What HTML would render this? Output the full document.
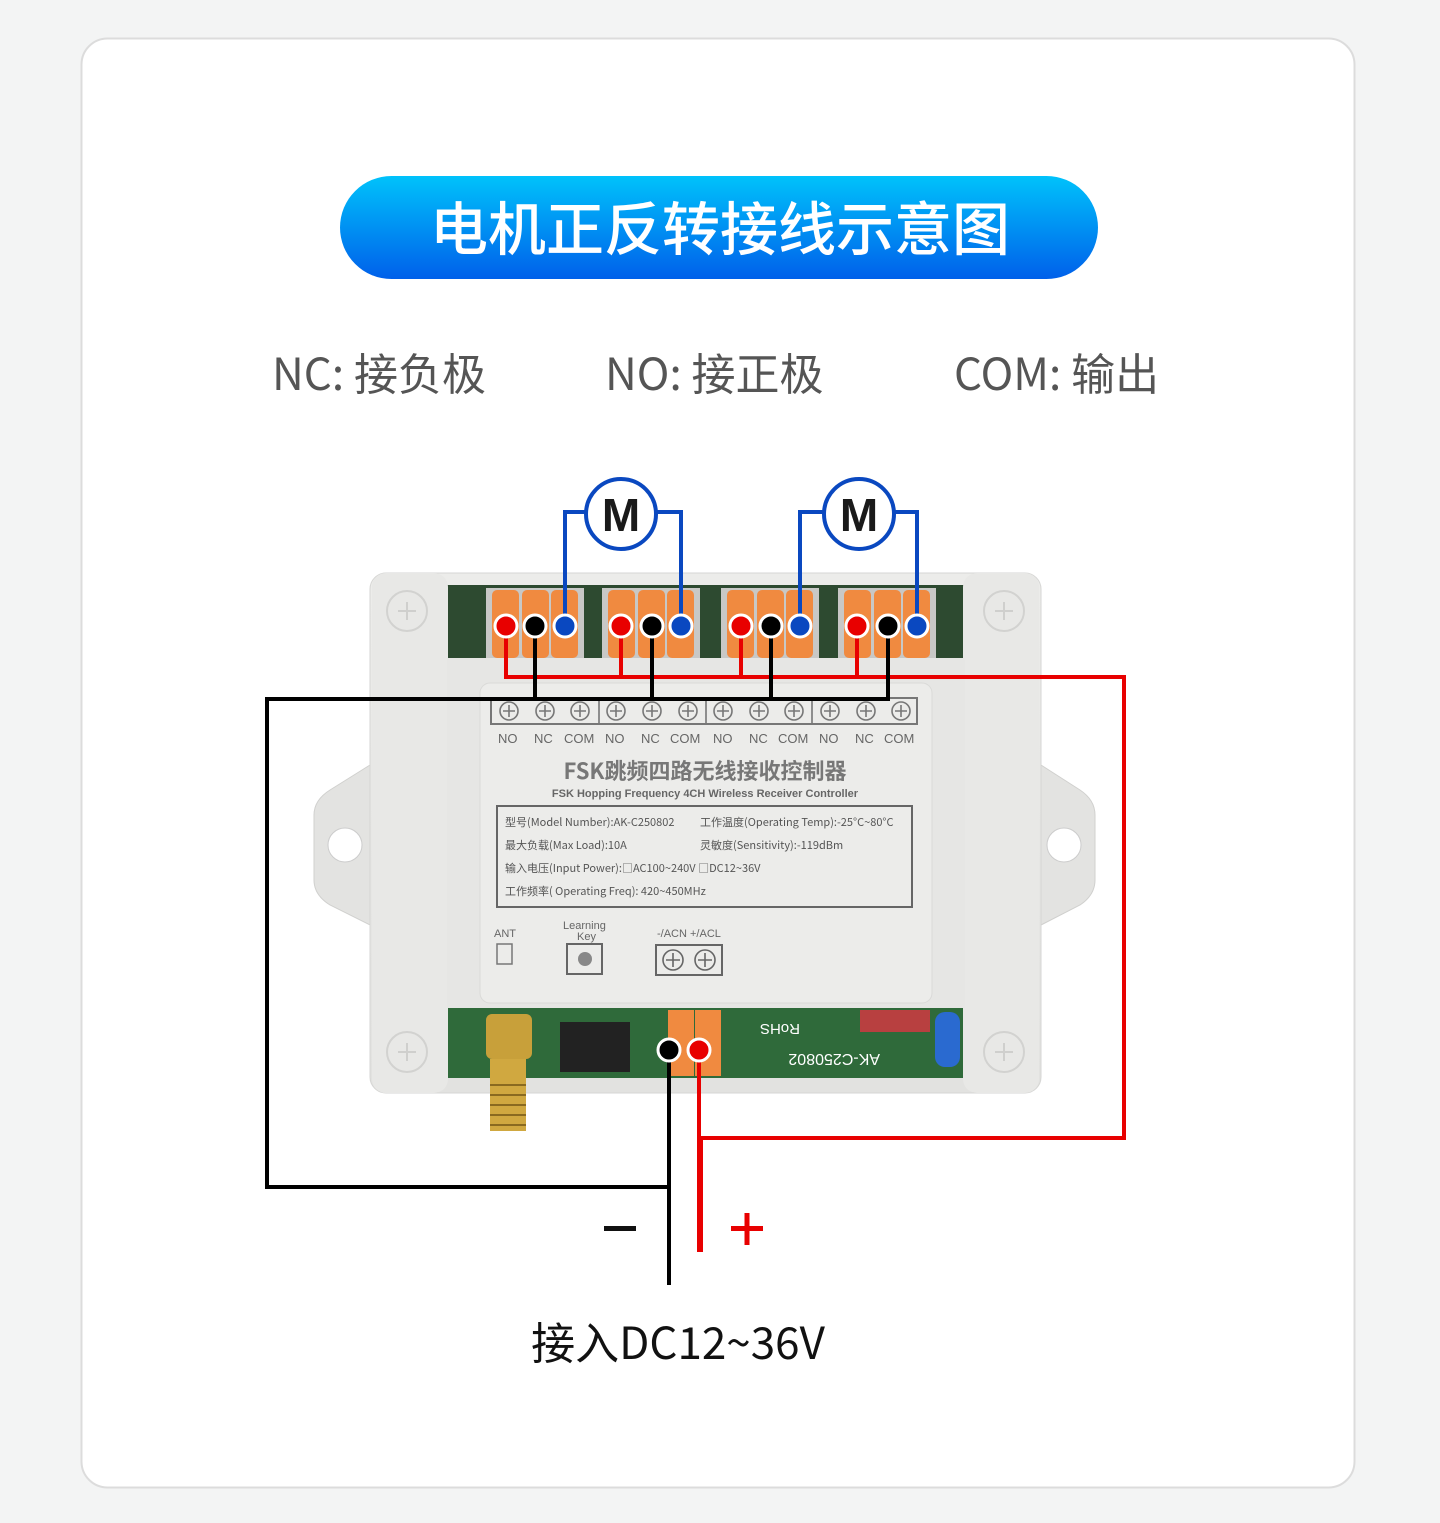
<!DOCTYPE html>
<html><head><meta charset="utf-8"><style>
html,body{margin:0;padding:0;background:#f3f4f4;}
svg{display:block}
text{font-family:"Liberation Sans","Noto Sans CJK SC",sans-serif;}
text.cjk{font-family:"Noto Sans CJK SC",sans-serif;}
</style></head><body>
<svg width="1440" height="1523" viewBox="0 0 1440 1523" xmlns="http://www.w3.org/2000/svg">
<defs>
<linearGradient id="pill" x1="0" y1="0" x2="0" y2="1"><stop offset="0" stop-color="#00c2fb"/><stop offset="1" stop-color="#0060ea"/></linearGradient>
<linearGradient id="body" x1="0" y1="0" x2="0" y2="1"><stop offset="0" stop-color="#ececea"/><stop offset="1" stop-color="#e2e2e0"/></linearGradient>
</defs>
<rect x="0" y="0" width="1440" height="1523" fill="#f3f4f4"/>
<rect x="81.5" y="38.5" width="1273" height="1449" rx="26" fill="#fff" stroke="#dcdcdc" stroke-width="2"/>
<rect x="340" y="176" width="758" height="103" rx="51.5" fill="url(#pill)"/>
<text class="cjk" x="720" y="250" text-anchor="middle" font-size="58" font-weight="500" fill="#fff">电机正反转接线示意图</text>
<g font-size="44" fill="#555">
<text class="cjk" x="272" y="390">NC: 接负极</text>
<text class="cjk" x="605" y="390">NO: 接正极</text>
<text class="cjk" x="954" y="390">COM: 输出</text>
</g>
<!-- ears -->
<path d="M370 765 L330 790 Q314 800 314 815 L314 880 Q314 895 330 905 L370 925 Z" fill="#e3e3e1" stroke="#d0d0ce"/>
<circle cx="345" cy="845" r="17" fill="#fff" stroke="#ccc"/>
<path d="M1041 765 L1080 790 Q1095 800 1095 815 L1095 880 Q1095 895 1080 905 L1041 925 Z" fill="#e3e3e1" stroke="#d0d0ce"/>
<circle cx="1064" cy="845" r="17" fill="#fff" stroke="#ccc"/>
<!-- body -->
<rect x="370" y="573" width="671" height="520" rx="16" fill="url(#body)" stroke="#d6d6d4"/>
<rect x="447" y="585" width="518" height="75" fill="#2d4a30"/>
<g fill="#c8c8c6"><rect x="486" y="588" width="98" height="72"/><rect x="602" y="588" width="98" height="72"/><rect x="721" y="588" width="98" height="72"/><rect x="838" y="588" width="98" height="72"/></g>
<rect x="447" y="1008" width="518" height="70" fill="#2f6a3a"/>
<rect x="372" y="573" width="76" height="520" rx="14" fill="#e8e8e6"/>
<rect x="963" y="573" width="76" height="520" rx="14" fill="#e8e8e6"/>
<circle cx="407" cy="611" r="20" fill="none" stroke="#d2d2d0" stroke-width="2"/>
<circle cx="1004" cy="611" r="20" fill="none" stroke="#d2d2d0" stroke-width="2"/>
<circle cx="407" cy="1052" r="20" fill="none" stroke="#d2d2d0" stroke-width="2"/>
<circle cx="1004" cy="1052" r="20" fill="none" stroke="#d2d2d0" stroke-width="2"/>
<g stroke="#cfcfcd" stroke-width="2"><path d="M398 611h18M407 602v18M995 611h18M1004 602v18M398 1052h18M407 1043v18M995 1052h18M1004 1043v18"/></g>
<!-- connectors -->
<g fill="#f08a40">
<rect x="492" y="590" width="27" height="68" rx="5"/><rect x="522" y="590" width="27" height="68" rx="5"/><rect x="551" y="590" width="27" height="68" rx="5"/>
<rect x="608" y="590" width="27" height="68" rx="5"/><rect x="638" y="590" width="27" height="68" rx="5"/><rect x="667" y="590" width="27" height="68" rx="5"/>
<rect x="727" y="590" width="27" height="68" rx="5"/><rect x="757" y="590" width="27" height="68" rx="5"/><rect x="786" y="590" width="27" height="68" rx="5"/>
<rect x="844" y="590" width="27" height="68" rx="5"/><rect x="874" y="590" width="27" height="68" rx="5"/><rect x="903" y="590" width="27" height="68" rx="5"/>
<rect x="668" y="1010" width="26" height="66"/><rect x="695" y="1010" width="26" height="66"/>
</g>
<rect x="447" y="658" width="518" height="350" fill="#e6e6e4"/>
<rect x="480" y="683" width="452" height="320" rx="10" fill="#ececea" stroke="#dadad8"/>
<!-- terminal strip -->
<rect x="491" y="698" width="426" height="26" fill="none" stroke="#777" stroke-width="2"/>
<g fill="none" stroke="#777" stroke-width="1.6">
<circle cx="509" cy="711" r="9"/><circle cx="545" cy="711" r="9"/><circle cx="580" cy="711" r="9"/><circle cx="616" cy="711" r="9"/><circle cx="652" cy="711" r="9"/><circle cx="688" cy="711" r="9"/><circle cx="723" cy="711" r="9"/><circle cx="759" cy="711" r="9"/><circle cx="794" cy="711" r="9"/><circle cx="830" cy="711" r="9"/><circle cx="866" cy="711" r="9"/><circle cx="901" cy="711" r="9"/>
<path d="M599 698v26M706 698v26M812 698v26"/>
<path d="M503 711h12M509 705v12M539 711h12M545 705v12M574 711h12M580 705v12M610 711h12M616 705v12M646 711h12M652 705v12M682 711h12M688 705v12M717 711h12M723 705v12M753 711h12M759 705v12M788 711h12M794 705v12M824 711h12M830 705v12M860 711h12M866 705v12M895 711h12M901 705v12"/>
</g>
<g font-size="13" fill="#666">
<text x="498" y="743">NO</text><text x="534" y="743">NC</text><text x="564" y="743">COM</text><text x="605" y="743">NO</text><text x="641" y="743">NC</text><text x="670" y="743">COM</text><text x="713" y="743">NO</text><text x="749" y="743">NC</text><text x="778" y="743">COM</text><text x="819" y="743">NO</text><text x="855" y="743">NC</text><text x="884" y="743">COM</text>
</g>
<text class="cjk" x="705" y="779" text-anchor="middle" font-size="22" font-weight="bold" fill="#777">FSK跳频四路无线接收控制器</text>
<text x="705" y="797" text-anchor="middle" font-size="11" font-weight="bold" fill="#666">FSK Hopping Frequency 4CH Wireless Receiver Controller</text>
<rect x="497" y="806" width="415" height="101" fill="none" stroke="#666" stroke-width="2"/>
<g font-size="11" fill="#555">
<text class="cjk" x="505" y="826">型号(Model Number):AK-C250802</text><text class="cjk" x="700" y="826">工作温度(Operating Temp):-25°C~80°C</text>
<text class="cjk" x="505" y="849">最大负载(Max Load):10A</text><text class="cjk" x="700" y="849">灵敏度(Sensitivity):-119dBm</text>
<text class="cjk" x="505" y="872">输入电压(Input Power):□AC100~240V □DC12~36V</text>
<text class="cjk" x="505" y="895">工作频率( Operating Freq): 420~450MHz</text>
</g>
<g font-size="11" fill="#666"><text x="494" y="937">ANT</text><text x="563" y="929">Learning</text><text x="577" y="940">Key</text><text x="657" y="937">-/ACN +/ACL</text></g>
<rect x="497" y="944" width="15" height="20" fill="none" stroke="#777" stroke-width="1.5"/>
<rect x="567" y="944" width="35" height="30" fill="none" stroke="#666" stroke-width="2"/><circle cx="585" cy="959" r="7" fill="#888"/>
<rect x="656" y="945" width="66" height="30" fill="none" stroke="#666" stroke-width="2"/>
<circle cx="673" cy="960" r="10" fill="none" stroke="#666" stroke-width="1.6"/><circle cx="705" cy="960" r="10" fill="none" stroke="#666" stroke-width="1.6"/>
<path d="M666 960h14M673 953v14M698 960h14M705 953v14" stroke="#666" stroke-width="1.6"/>
<!-- PCB details -->
<rect x="860" y="1010" width="70" height="22" fill="#b84040"/>
<rect x="935" y="1012" width="25" height="55" rx="10" fill="#2a6ad0"/>
<rect x="560" y="1022" width="70" height="50" fill="#222"/>
<text x="800" y="1034" font-size="15" fill="#fff" transform="rotate(180 800 1029)">RoHS</text>
<text x="880" y="1066" font-size="16" fill="#fff" transform="rotate(180 880 1060)">AK-C250802</text>
<!-- antenna -->
<rect x="486" y="1014" width="46" height="45" rx="6" fill="#c8a03a"/>
<rect x="490" y="1059" width="36" height="72" fill="#d0a840"/>
<g stroke="#8a6a20" stroke-width="2"><path d="M490 1085h36M490 1095h36M490 1105h36M490 1115h36M490 1125h36"/></g>
<!-- wires -->
<g fill="none" stroke-width="4">
<path d="M506 626V677H1124V1138H701V1252" stroke="#e80000"/>
<path d="M621 626V677M741 626V677M857 626V677" stroke="#e80000"/>
<path d="M888 626V699H267V1187H669M535 626V699M652 626V699M771 626V699" stroke="#000"/>
<path d="M669 1050V1285" stroke="#000"/>
<path d="M699 1050V1252" stroke="#e80000"/>
<path d="M565 626V512H587M681 626V512H657M800 626V512H823M917 626V512H895" stroke="#0a48c0"/>
</g>
<g stroke="#fff" stroke-width="3">
<circle cx="506" cy="626" r="11" fill="#e80000"/><circle cx="535" cy="626" r="11" fill="#000"/><circle cx="565" cy="626" r="11" fill="#0a48c0"/>
<circle cx="621" cy="626" r="11" fill="#e80000"/><circle cx="652" cy="626" r="11" fill="#000"/><circle cx="681" cy="626" r="11" fill="#0a48c0"/>
<circle cx="741" cy="626" r="11" fill="#e80000"/><circle cx="771" cy="626" r="11" fill="#000"/><circle cx="800" cy="626" r="11" fill="#0a48c0"/>
<circle cx="857" cy="626" r="11" fill="#e80000"/><circle cx="888" cy="626" r="11" fill="#000"/><circle cx="917" cy="626" r="11" fill="#0a48c0"/>
<circle cx="669" cy="1050" r="11" fill="#000"/><circle cx="699" cy="1050" r="11" fill="#e80000"/>
</g>
<circle cx="621" cy="514" r="35" fill="#fff" stroke="#0a48c0" stroke-width="4"/>
<circle cx="859" cy="514" r="35" fill="#fff" stroke="#0a48c0" stroke-width="4"/>
<text x="621" y="531" text-anchor="middle" font-size="46" font-weight="bold" fill="#1a1a1a">M</text>
<text x="859" y="531" text-anchor="middle" font-size="46" font-weight="bold" fill="#1a1a1a">M</text>
<rect x="604" y="1226" width="32" height="5" fill="#111"/>
<rect x="731" y="1226" width="32" height="5" fill="#e80000"/><rect x="744.5" y="1213" width="5" height="32" fill="#e80000"/>
<text class="cjk" x="678" y="1359" text-anchor="middle" font-size="44" fill="#111">接入DC12~36V</text>
</svg>
</body></html>
